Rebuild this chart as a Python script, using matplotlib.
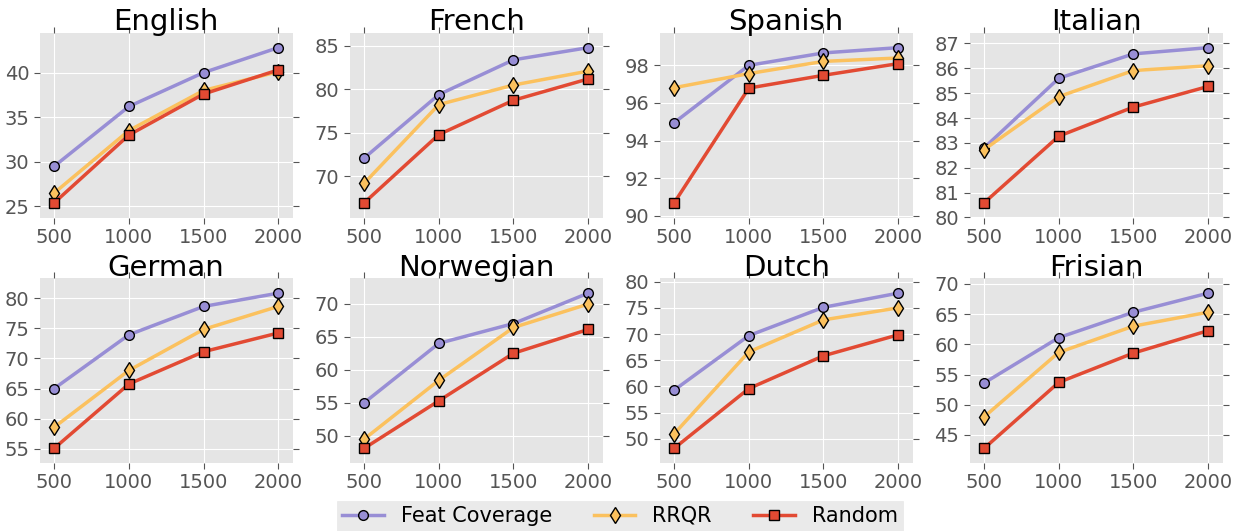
import numpy as np
import matplotlib
matplotlib.use('Agg')
import matplotlib.pyplot as plt
from matplotlib.ticker import MultipleLocator

plt.style.use('ggplot')
plt.rcParams['font.family'] = ['DejaVu Sans']

# Data
sizes = [500, 1000, 1500, 2000]
languages = ['English', 'French', 'Spanish', 'Italian',
             'German', 'Norwegian', 'Dutch', 'Frisian']
methods = ['Feat Coverage', 'RRQR', 'Random']

feat_coverage = [
    [29.5, 36.2, 40.0, 42.8],
    [72.1, 79.4, 83.4, 84.8],
    [94.95, 98.0, 98.66, 98.94],
    [82.8, 85.6, 86.58, 86.83],
    [65.0, 73.9, 78.6, 80.8],
    [55.0, 64.0, 67.0, 71.6],
    [59.3, 69.7, 75.1, 77.8],
    [53.6, 61.1, 65.3, 68.45],
]
rrqr = [
    [26.5, 33.5, 38.0, 40.1],
    [69.2, 78.25, 80.5, 82.1],
    [96.81, 97.56, 98.21, 98.39],
    [82.73, 84.86, 85.91, 86.1],
    [58.6, 68.0, 74.8, 78.6],
    [49.5, 58.4, 66.4, 69.95],
    [50.96, 66.6, 72.7, 75.0],
    [48.0, 58.66, 63.0, 65.3],
]
random_sel = [
    [25.4, 33.0, 37.6, 40.3],
    [66.95, 74.8, 78.75, 81.2],
    [90.69, 96.79, 97.47, 98.09],
    [80.59, 83.27, 84.44, 85.27],
    [55.1, 65.75, 71.1, 74.2],
    [48.1, 55.3, 62.5, 66.1],
    [48.2, 59.6, 65.85, 69.85],
    [42.8, 53.7, 58.55, 62.25],
]

y_steps = [5, 5, 2, 1, 5, 5, 5, 5]

colors = ['#988ED5', '#FBC15E', '#E24A33']
markers = ['o', 'd', 's']
msizes = [7, 8.5, 7]

fig, axes = plt.subplots(2, 4, figsize=(12.4, 5.31), dpi=100)
fig.subplots_adjust(left=0.032, right=0.986, top=0.938, bottom=0.128,
                    wspace=0.225, hspace=0.33)

for i, ax in enumerate(axes.flat):
    series = [feat_coverage[i], rrqr[i], random_sel[i]]
    for vals, name, c, m, ms in zip(series, methods, colors, markers, msizes):
        ax.plot(sizes, vals, color=c, marker=m, markersize=ms, linewidth=2.5,
                markeredgecolor='black', markeredgewidth=1, label=name)
    ax.margins(x=0.065, y=0.095)
    ax.set_xticks(sizes)
    ax.yaxis.set_major_locator(MultipleLocator(y_steps[i]))
    ax.set_title(languages[i], fontsize=21, pad=2)
    ax.tick_params(labelsize=14, colors='#555555', top=True, right=True,
                   direction='out', length=4)
    for s in ax.spines.values():
        s.set_visible(False)

handles, labels = axes[0, 0].get_legend_handles_labels()
leg = fig.legend(handles, labels, loc='lower center', ncol=3,
                 bbox_to_anchor=(0.5, 0.0), borderaxespad=0.0,
                 fontsize=15, frameon=True, columnspacing=2.0,
                 handlelength=2.0, borderpad=0.25, fancybox=False)
leg.get_frame().set_facecolor('#E5E5E5')
leg.get_frame().set_edgecolor('#E5E5E5')

fig.savefig('out.png', dpi=100)
